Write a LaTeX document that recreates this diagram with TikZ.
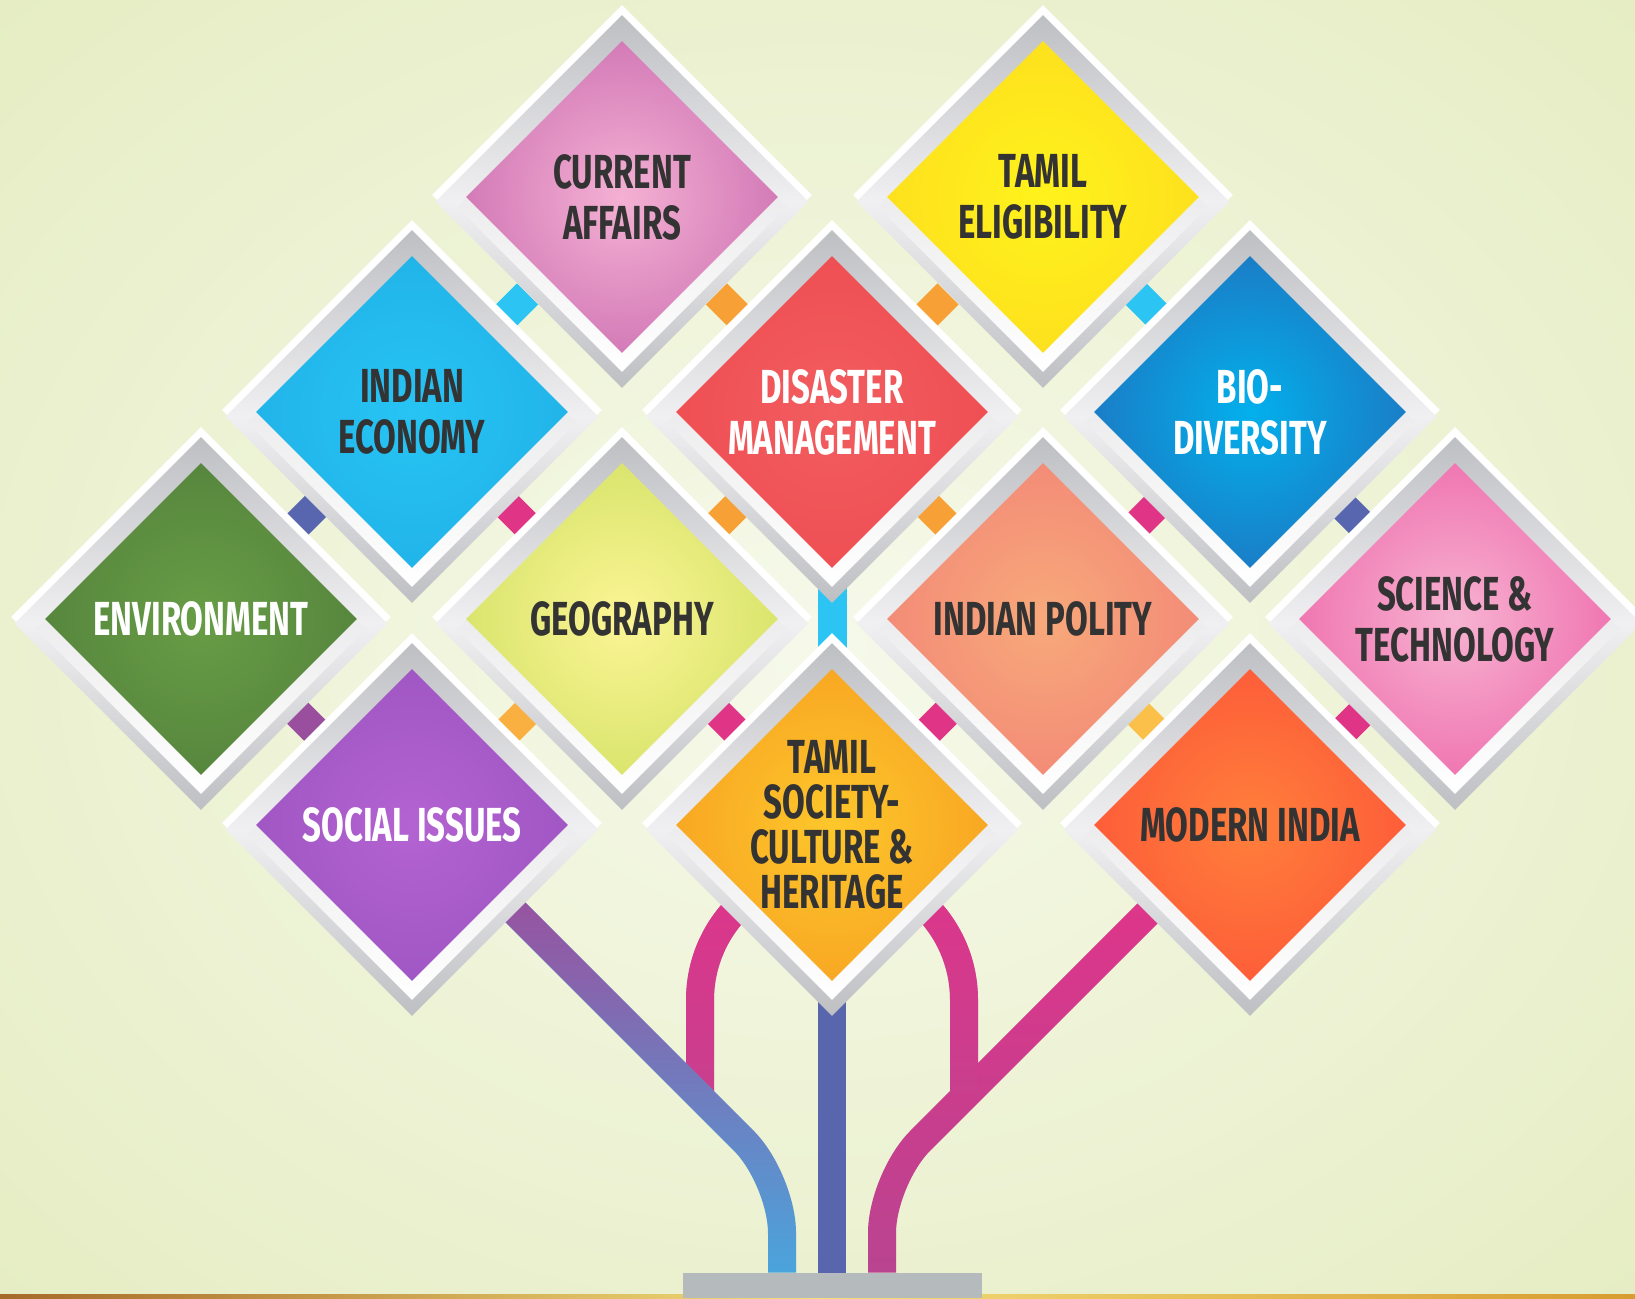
\documentclass[tikz,border=0pt]{standalone}
\usepackage{fontspec}
\usetikzlibrary{shapes.geometric,fadings}
\newfontfamily\tilefont[FakeStretch=0.69]{Fira Sans}

% colours
\definecolor{ink}{HTML}{333333}
\definecolor{bgEdge}{HTML}{E3EBBC}
\definecolor{bgMid}{HTML}{F6F9EA}
\definecolor{frameDark}{HTML}{BEBFC3}
\definecolor{frameLight}{HTML}{F0F0F2}
\definecolor{wellTop}{HTML}{DCDCDF}
\definecolor{caIn}{HTML}{F4B1D3}\definecolor{caOut}{HTML}{BD56A5}
\definecolor{teIn}{HTML}{FFF31C}\definecolor{teOut}{HTML}{FCD41F}
\definecolor{ieIn}{HTML}{27C4F4}\definecolor{ieOut}{HTML}{1EA9E1}
\definecolor{dmIn}{HTML}{F25D60}\definecolor{dmOut}{HTML}{EC464B}
\definecolor{bdIn}{HTML}{03B0EC}\definecolor{bdOut}{HTML}{2A5BAD}
\definecolor{enIn}{HTML}{689D46}\definecolor{enOut}{HTML}{4B7737}
\definecolor{geIn}{HTML}{FCF595}\definecolor{geOut}{HTML}{C2DA52}
\definecolor{poIn}{HTML}{F8A97A}\definecolor{poOut}{HTML}{EF7875}
\definecolor{stIn}{HTML}{F7B3D1}\definecolor{stOut}{HTML}{EB4E9D}
\definecolor{siIn}{HTML}{B463D2}\definecolor{siOut}{HTML}{924EBA}
\definecolor{tsIn}{HTML}{FDC72B}\definecolor{tsOut}{HTML}{F5921E}
\definecolor{miIn}{HTML}{FF7F3B}\definecolor{miOut}{HTML}{FD4737}
\definecolor{gemCyan}{HTML}{2BC4F3}
\definecolor{gemOrange}{HTML}{F7A035}
\definecolor{gemIndigo}{HTML}{5766AE}
\definecolor{gemPink}{HTML}{E03587}
\definecolor{gemPurple}{HTML}{9A4F9E}
\definecolor{gemAmber}{HTML}{F9B040}
\definecolor{gemGold}{HTML}{FBC04A}
\definecolor{trunkMid}{HTML}{5866AE}
\definecolor{trunkBlue}{HTML}{48A8DF}
\definecolor{trunkPurple}{HTML}{9C4F9D}
\definecolor{archTop}{HTML}{E0358A}
\definecolor{archLow}{HTML}{C8408F}
\definecolor{pinkLow}{HTML}{B84591}
\definecolor{stripL}{HTML}{A66A28}
\definecolor{stripM}{HTML}{F3DE7A}
\definecolor{stripR}{HTML}{D89C30}
\definecolor{baseGray}{HTML}{B5BABD}

\colorlet{tilein}{white}
\colorlet{tileout}{white}
\pgfdeclareradialshading[tilein,tileout]{tileglow}{\pgfpointorigin}{color(0bp)=(tilein); color(42bp)=(tileout); color(50bp)=(tileout)}
\tikzfading[name=fade down, top color=transparent!0, bottom color=transparent!100]

\pgfdeclarelayer{paper}
\pgfdeclarelayer{under}
\pgfsetlayers{paper,under,main}

\begin{document}
\begin{tikzpicture}[x=0.5pt, y=-0.5pt,
    rim/.style={diamond, aspect=1, inner sep=0pt, minimum size=190pt, fill=white},
    bevel/.style={diamond, aspect=1, inner sep=0pt, minimum size=186.5pt, top color=frameDark, bottom color=frameDark, middle color=frameLight},
    well/.style={diamond, aspect=1, inner sep=0pt, minimum size=165pt, top color=wellTop, bottom color=white},
    tile/.style={diamond, aspect=1, inner sep=0pt, minimum size=156pt, shade, shading=tileglow},
    tag/.style={align=center, inner sep=0pt, font=\tilefont\bfseries\fontsize{23.9}{#1}\selectfont},
    gem/.style={rectangle, rotate=45, inner sep=0pt, minimum size=15pt},
    stem/.style={line width=14pt}]
    \useasboundingbox (0,0) rectangle (1635,1298);

    % Background
    \begin{pgfonlayer}{paper}
        \fill[bgEdge] (0,0) rectangle (1635,1298);
        \colorlet{tilein}{bgMid}\colorlet{tileout}{bgEdge}
        \shade[shading=tileglow] (0,0) rectangle (1635,1298);
        \shade[left color=stripL, right color=stripR, middle color=stripM] (0,1294) rectangle (1635,1298);
    \end{pgfonlayer}
    \node[fill=baseGray, inner sep=0pt, minimum width=149.5pt, minimum height=12.5pt] (base) at (832.5,1285.5) {};

    % Tiles
    \foreach \nm/\cx/\cy/\tin/\tout/\ink/\ls/\txt in {
        ca/622/197/caIn/caOut/ink/25.5/{CURRENT\\AFFAIRS},
        te/1043/197/teIn/teOut/ink/25.5/{TAMIL\\ELIGIBILITY},
        ie/412/412/ieIn/ieOut/ink/25.5/{INDIAN\\ECONOMY},
        dm/832/412/dmIn/dmOut/white/25.5/{DISASTER\\MANAGEMENT},
        bd/1250/412/bdIn/bdOut/white/25.5/{BIO-\\DIVERSITY},
        en/201/619/enIn/enOut/white/25.5/{ENVIRONMENT},
        ge/622/619/geIn/geOut/ink/25.5/{GEOGRAPHY},
        po/1043/619/poIn/poOut/ink/25.5/{INDIAN POLITY},
        st/1455/619/stIn/stOut/ink/25.5/{SCIENCE \&\\TECHNOLOGY},
        si/412/825/siIn/siOut/white/25.5/{SOCIAL ISSUES},
        ts/832/825/tsIn/tsOut/ink/22.5/{TAMIL\\SOCIETY-\\CULTURE \&\\HERITAGE},
        mi/1250/825/miIn/miOut/ink/25.5/{MODERN INDIA}}
    {
        \colorlet{tilein}{\tin}\colorlet{tileout}{\tout}
        \node[rim] (\nm-rim) at (\cx,\cy-2) {};
        \node[bevel] (\nm-bevel) at (\cx,\cy+4.5) {};
        \node[well] (\nm-well) at (\cx,\cy+10) {};
        \node[tile] (\nm) at (\cx,\cy) {};
        \node[tag=\ls, text=\ink] (\nm-tag) at (\cx,\cy) {\txt};
    }

    % Gems between the tiles
    \begin{pgfonlayer}{under}
        \foreach \gx/\gy/\gc [count=\g] in {
            517/304.5/gemCyan, 727/304.5/gemOrange, 937.5/304.5/gemOrange, 1146.5/304.5/gemCyan,
            306.5/515.5/gemIndigo, 517/515.5/gemPink, 727/515.5/gemOrange, 937.5/515.5/gemOrange,
            1146.5/515.5/gemPink, 1352.5/515.5/gemIndigo,
            306.5/722/gemPurple, 517/722/gemAmber, 727/722/gemPink, 937.5/722/gemPink,
            1146.5/722/gemGold, 1352.5/722/gemPink}
        \node[gem, fill=\gc] (gem-\g) at (\gx,\gy) {};
        \node[fill=gemCyan, inner sep=0pt, minimum width=14.5pt, minimum height=32.5pt] (knot) at (832.5,617) {};

        % Trunk
        \coordinate (left sprout) at (500,897);
        \coordinate (right sprout) at (1164,897);
        \coordinate (left bend) at (782,1179);
        \coordinate (right bend) at (882,1179);
        \coordinate (arch left) at (700,868);
        \coordinate (arch top) at (832,868);
        \coordinate (arch right) at (964,868);
        \coordinate (left foot) at (700,1095);
        \coordinate (right foot) at (964,1093);

        \draw[stem, draw=archLow, rounded corners=66pt] (left foot) -- (arch left) -- (arch top);
        \draw[stem, draw=archTop, rounded corners=66pt, path fading=fade down] (left foot) -- (arch left) -- (arch top);
        \draw[stem, draw=trunkBlue, rounded corners=27pt] (left sprout) -- (left bend) -- (left bend |- base.north);
        \draw[stem, draw=trunkPurple, rounded corners=27pt, path fading=fade down] (left sprout) -- (left bend) -- (left bend |- base.north);
        \draw[stem, draw=pinkLow, rounded corners=27pt] (right sprout) -- (right bend) -- (right bend |- base.north);
        \draw[stem, draw=archTop, rounded corners=27pt, path fading=fade down] (right sprout) -- (right bend) -- (right bend |- base.north);
        \draw[stem, draw=archLow, rounded corners=66pt] (arch top) -- (arch right) -- (right foot);
        \draw[stem, draw=archTop, rounded corners=66pt, path fading=fade down] (arch top) -- (arch right) -- (right foot);
        \draw[stem, draw=trunkMid] (ts) -- (ts |- base.north);
    \end{pgfonlayer}
\end{tikzpicture}
\end{document}
